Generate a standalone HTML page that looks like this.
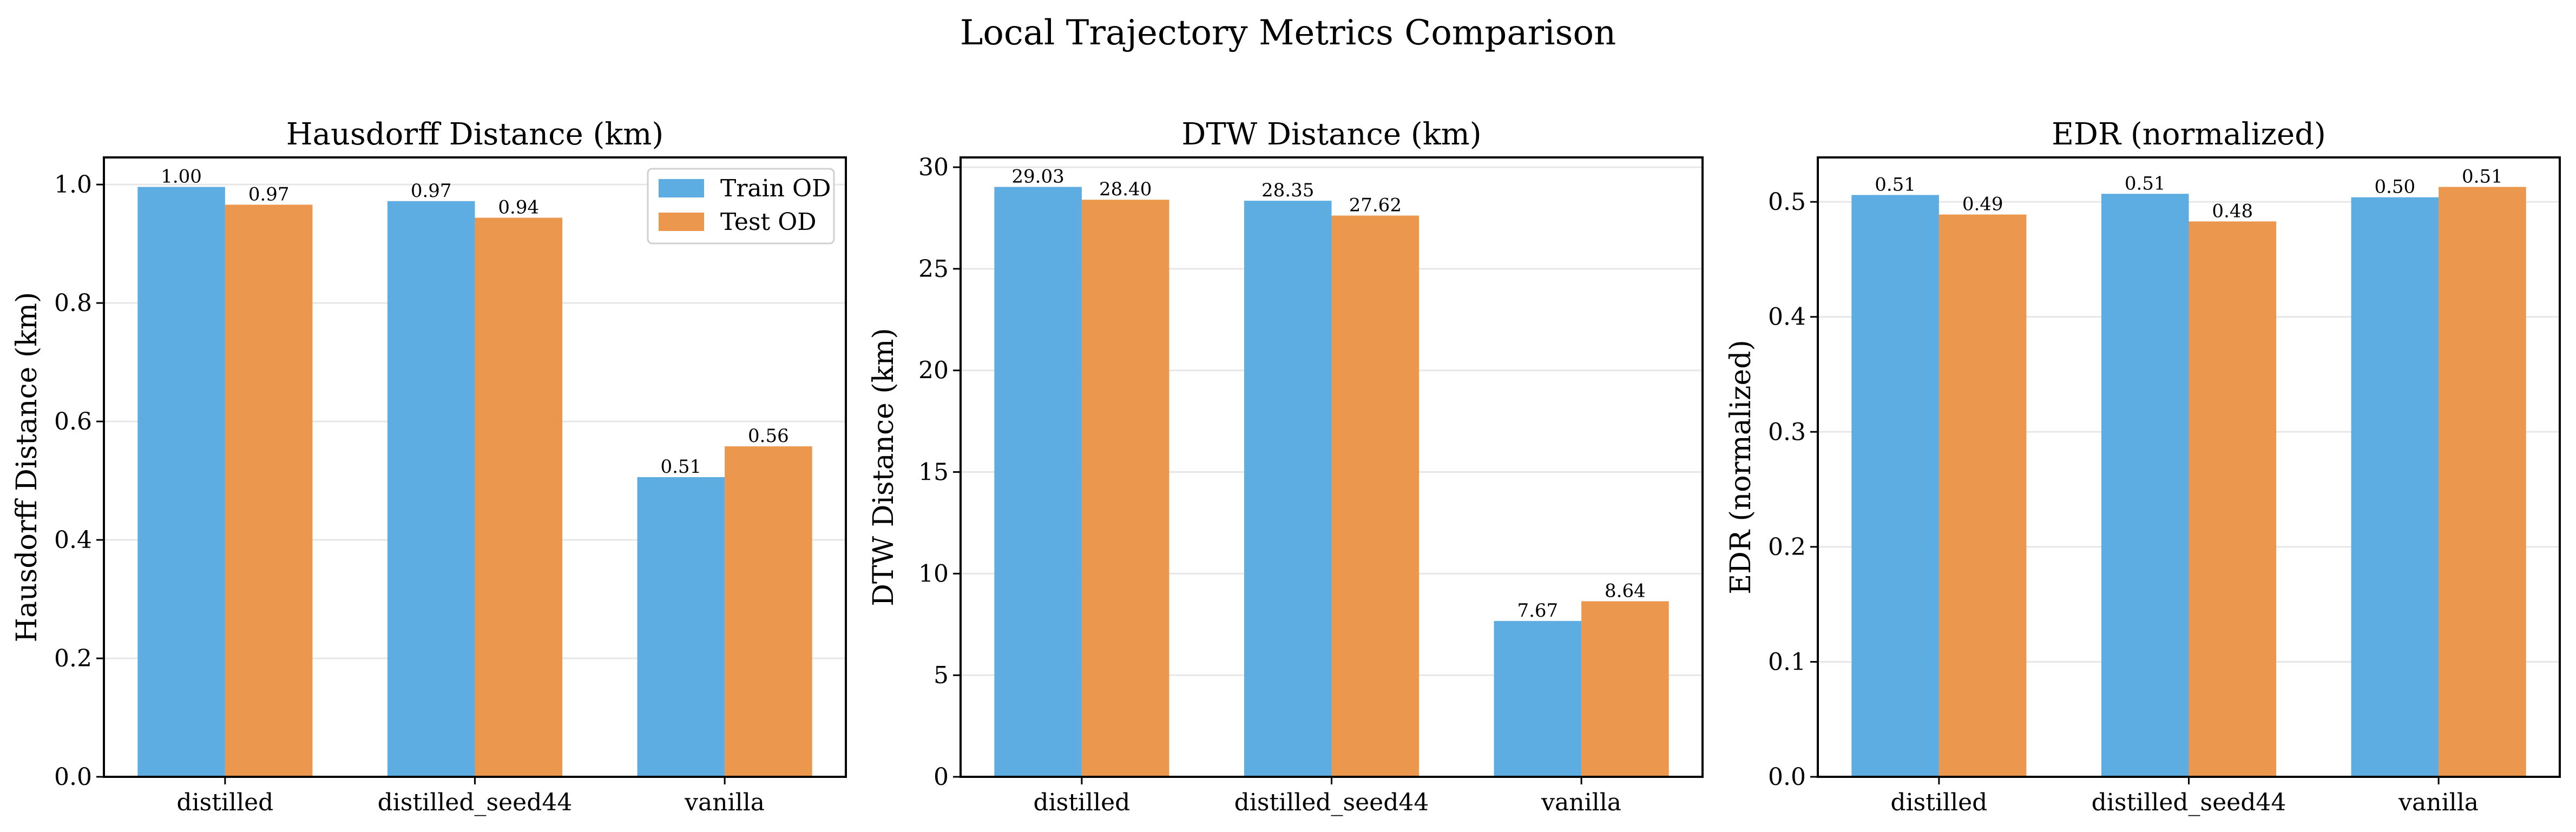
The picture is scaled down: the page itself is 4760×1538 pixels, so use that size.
<!DOCTYPE html>
<html><head><meta charset="utf-8">
<style>
html,body{margin:0;padding:0;background:#fff;}
svg{display:block;font-family:"DejaVu Serif","Liberation Serif",serif;}
</style></head>
<body>
<svg id="fig" width="4760" height="1538" viewBox="0 0 4760 1538" xmlns="http://www.w3.org/2000/svg">
<rect width="4760" height="1538" fill="#fff"/>
<text x="2380" y="82" font-size="64" text-anchor="middle">Local Trajectory Metrics Comparison</text>
</svg>
<script>
const categories = ["distilled", "distilled_seed44", "vanilla"];
const seriesNames = ["Train OD", "Test OD"];
const hausTrain = [0.996, 0.972, 0.506];
const hausTest = [0.966, 0.944, 0.558];
const hausTicks = [0.0, 0.2, 0.4, 0.6, 0.8, 1.0];
const hausTickLabels = ["0.0", "0.2", "0.4", "0.6", "0.8", "1.0"];
const dtwTrain = [29.03, 28.35, 7.67];
const dtwTest = [28.40, 27.62, 8.64];
const dtwTicks = [0, 5, 10, 15, 20, 25, 30];
const dtwTickLabels = ["0", "5", "10", "15", "20", "25", "30"];
const edrTrain = [0.506, 0.507, 0.504];
const edrTest = [0.489, 0.483, 0.513];
const edrTicks = [0.0, 0.1, 0.2, 0.3, 0.4, 0.5];
const edrTickLabels = ["0.0", "0.1", "0.2", "0.3", "0.4", "0.5"];
const panelTitles = ["Hausdorff Distance (km)", "DTW Distance (km)", "EDR (normalized)"];
const yLabels = ["Hausdorff Distance (km)", "DTW Distance (km)", "EDR (normalized)"];

const NS = "http://www.w3.org/2000/svg";
const svg = document.getElementById("fig");
const colors = ["#5DADE2", "#EB984E"];
function mk(tag, attrs, parent) {
  const e = document.createElementNS(NS, tag);
  for (const k in attrs) e.setAttribute(k, attrs[k]);
  (parent || svg).appendChild(e);
  return e;
}
const lefts = [192, 1775, 3359];
const W = 1371, TOP = 291, BOT = 1436;
const BW = 0.35;

function panel(pi, train, test, ticks, tickLabels, legend) {
  const L = lefts[pi];
  const g = mk("g", {});
  
  
  const ymax = Math.max(...train, ...test) * 1.05;
  const xmin = -0.485, xmax = 2.485;
  const X = v => L + (v - xmin) / (xmax - xmin) * W;
  const Y = v => BOT - v / ymax * (BOT - TOP);
  ticks.forEach((t, i) => {
    const y = Y(t);
    const gl = mk("line", {x1: L, x2: L + W, y1: y, y2: y, stroke: "#e6e6e6", "stroke-width": 3}, g);
    
    
    mk("line", {x1: L - 14, x2: L, y1: y, y2: y, stroke: "#000", "stroke-width": 3}, g);
    const tl = mk("text", {x: L - 22, y: y + 15, "font-size": 44, "text-anchor": "end"}, g);
    tl.textContent = tickLabels[i];
    
    
  });
  [train, test].forEach((vals, si) => {
    vals.forEach((v, ci) => {
      const x0 = si === 0 ? ci - BW : ci;
      const r = mk("rect", {x: X(x0), y: Y(v), width: X(x0 + BW) - X(x0), height: BOT - Y(v), fill: colors[si]}, g);
      
      
      const t = mk("text", {x: X(x0 + BW / 2), y: Y(v) - 8, "font-size": 34, "text-anchor": "middle"}, g);
      t.textContent = v.toFixed(2);
      
      
    });
  });
  categories.forEach((c, ci) => {
    const x = X(ci);
    mk("line", {x1: x, x2: x, y1: BOT, y2: BOT + 14, stroke: "#000", "stroke-width": 3}, g);
    const t = mk("text", {x: x, y: BOT + 62, "font-size": 44, "text-anchor": "middle"}, g);
    t.textContent = c;
    
    
  });
  const fr = mk("rect", {x: L, y: TOP, width: W, height: BOT - TOP, fill: "none", stroke: "#000", "stroke-width": 4}, g);
  
  
  const tt = mk("text", {x: L + W / 2, y: TOP - 24, "font-size": 56, "text-anchor": "middle"}, g);
  tt.textContent = panelTitles[pi];
  
  
  const yl = mk("text", {x: 0, y: 0, "font-size": 52, "text-anchor": "middle", transform: `translate(${L - 125},${(TOP + BOT) / 2}) rotate(-90)`}, g);
  yl.textContent = yLabels[pi];
  
  
  if (legend) {
    const lg = mk("g", {}, g);
    
    
    mk("rect", {x: L + W - 366, y: 312, width: 344, height: 138, rx: 8, fill: "#fff", "fill-opacity": 0.9, stroke: "#d0d0d0", "stroke-width": 3}, lg);
    seriesNames.forEach((n, si) => {
      const cy = 348 + si * 62;
      const sw = mk("rect", {x: L + W - 346, y: cy - 17, width: 84, height: 34, fill: colors[si]}, lg);
      
      
      const t = mk("text", {x: L + W - 232, y: cy + 15, "font-size": 44}, lg);
      t.textContent = n;
      
      
    });
  }
}
panel(0, hausTrain, hausTest, hausTicks, hausTickLabels, true);
panel(1, dtwTrain, dtwTest, dtwTicks, dtwTickLabels, false);
panel(2, edrTrain, edrTest, edrTicks, edrTickLabels, false);
</script>
</body></html>
